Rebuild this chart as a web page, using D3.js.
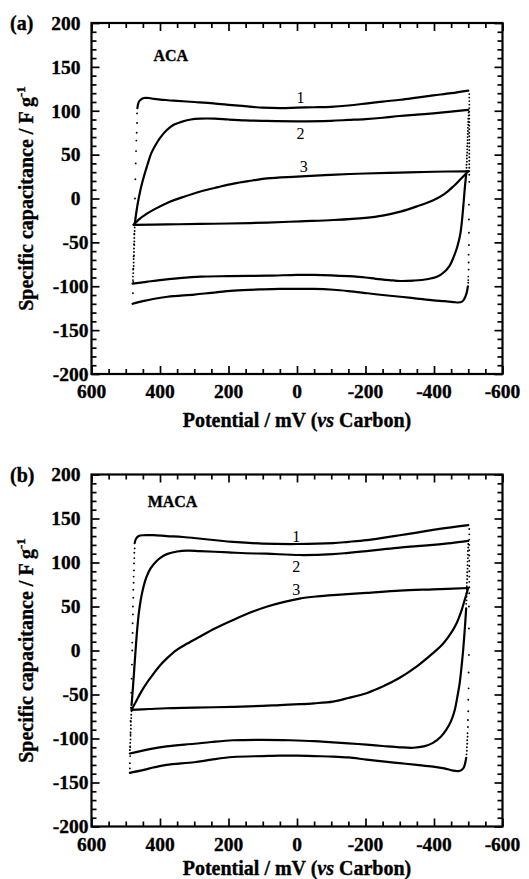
<!DOCTYPE html>
<html><head><meta charset="utf-8">
<script src="https://cdnjs.cloudflare.com/ajax/libs/d3/7.8.5/d3.min.js"></script>
<style>body{margin:0;background:#fff}svg{display:block}</style>
</head><body>
<svg id="chart" width="529" height="879"></svg>
<script>
// ---------- data ----------
const xMajorTicks = [600, 400, 200, 0, -200, -400, -600];
const yMajorTicks = [200, 150, 100, 50, 0, -50, -100, -150, -200];
const xTitle = ["Potential / mV (", "vs", " Carbon)"];
const yTitle = ["Specific capacitance / F g", "-1"];
const panelLetters = ["(a)", "(b)"];
const sampleNames = ["ACA", "MACA"];
const curveNames = ["1", "2", "3"];

// ACA: [potential mV, capacitance F/g]
const aca1Up = [[466,103],[462,110],[455,113],[447,114.5],[432,114.5],[418,113.5],[390,112.5],[360,111.5],[300,110],[244,108.5],[190,106.5],[145,105],[100,103.5],[48,103],[0,103.5],[-50,104],[-98,104.5],[-150,106],[-206,108.5],[-250,110.5],[-302,112.5],[-350,115],[-398,117.5],[-450,120],[-500,123]];
const aca1Low = [[-499,-100],[-495,-108],[-489,-114],[-482,-117.5],[-470,-118.5],[-457,-118],[-430,-117],[-398,-116],[-350,-114],[-302,-112],[-250,-110],[-206,-108],[-150,-105.5],[-107,-104],[-50,-103],[0,-103],[50,-103],[100,-103.5],[185,-105],[250,-107.5],[300,-109.5],[378,-112],[420,-114.5],[450,-117],[480,-120]];
const aca1Dots = [[-503,119],[-503,115],[-503,111],[-503,107],[-503,103],[-503,99],[-503,95],[-503,91],[-503,87],[-503,83],[-503,79],[-503,75],[-503,71],[-503,67],[-503,63],[-503,59],[-503,55],[-503,51],[-503,47],[-503,43],[-503,39],[-503,35],[-503,31],[-503,27],[-503,19],[-502,-7],[-502,-24],[-502,-39],[-502,-53],[-501,-64],[-501,-73],[-501,-81],[-500,-89],[-500,-93],[-500,-96],
  [479,-108],[478,-95],[478,-80],[477,-66],[476,-52],[475,-40],[474,-28],[473,0],[472,22],[471,40],[470,54],[469,66],[468,75],[467,86],[467,97]];
const aca2Up = [[474,-30],[466,-8],[457,10],[447,25],[437,38],[425,52],[410,63],[398,70],[380,78],[360,84],[340,87],[310,90],[282,91],[240,91],[200,90],[150,89],[97,88.5],[0,88],[-98,88.5],[-150,89.5],[-200,90.5],[-250,92],[-300,94],[-350,95.5],[-398,97],[-450,99],[-500,101]];
const aca2Low = [[-494,28],[-490,12],[-487,-2],[-483,-20],[-477,-40],[-468,-55],[-458,-66],[-445,-77],[-429,-84],[-410,-89],[-380,-92],[-340,-93.5],[-302,-94],[-270,-93],[-230,-91.5],[-200,-90],[-150,-88.5],[-100,-87.5],[-50,-87],[0,-87],[86,-88],[200,-88.5],[282,-89],[350,-91],[400,-93],[440,-95],[480,-97]];
const aca2Dots = [[-501,98],[-501,94.5],[-500,91],[-500,87.5],[-500,84],[-499,80.5],[-499,77],[-499,73.5],[-498,70],[-498,66.5],[-498,63],[-497,59.5],[-497,56],[-497,52.5],[-496,49],[-496,45.5],[-496,42],[-495,38.5],[-495,35],[-495,31.5],
  [479,-93],[479,-89],[478,-85],[478,-81],[477,-77],[477,-73],[477,-69],[476,-65],[476,-61],[476,-57],[475,-53],[475,-49],[475,-45],[475,-41],[474,-37],[474,-33]];
const aca3Up = [[477,-30],[462,-24],[437,-17],[410,-11],[379,-5],[330,2],[282,8],[230,13],[185,17],[130,20.5],[87,23],[0,25],[-98,27],[-200,28.5],[-300,29.5],[-400,30.5],[-500,31]];
const aca3Low = [[-500,31],[-490,27],[-475,21],[-457,14],[-430,5],[-398,-2],[-350,-9],[-302,-15],[-250,-19.5],[-200,-22],[-107,-24.5],[-10,-26],[87,-27.5],[200,-28.5],[282,-29],[380,-29.5],[477,-30]];
const aca3Dots = [];

// MACA
const maca1Up = [[474,122],[470,127],[462,130],[449,131],[420,131],[380,130],[333,129],[280,127],[230,125],[187,123.5],[100,121.5],[0,121],[-105,122],[-150,123.5],[-203,125.5],[-250,128],[-300,131],[-350,134],[-397,137],[-450,140],[-500,142.5]];
const maca1Low = [[-494,-122],[-491,-128],[-487,-133],[-480,-136],[-470,-137],[-456,-136.5],[-430,-134],[-397,-132],[-350,-130],[-300,-128],[-250,-126],[-203,-124],[-150,-121.5],[-105,-120.5],[-50,-120],[0,-119.5],[50,-119.5],[100,-120],[187,-121],[250,-124],[300,-127],[381,-130],[420,-133],[450,-136],[488,-139]];
const maca1Dots = [[-503,138],[-503,132],[-503,126],[-503,120],[-503,114],[-503,108],[-503,102],[-503,96],[-503,90],[-503,84],[-503,78],[-503,72],[-503,65],[-502,50],[-502,25],[-502,-5],[-501,-25],[-501,-43],[-500,-56],[-500,-69],[-499,-79],[-499,-87],[-498,-94],[-498,-98],[-497,-102],[-497,-106],[-496,-110],[-496,-114],[-495,-118],
  [488,-134],[488,-128],[487,-120],[487,-110],[486,-95],[486,-80],[485,-65],[484,-48],[483,-32],[482,-16],[481,0],[481,9],[480,20],[480,31],[479,41],[479,50],[478,60],[478,69],[477,77],[477,84],[476,91],[476,99],[475,105],[475,111],[474,116]];
const maca2Up = [[483,-62],[479,-42],[475,-20],[471,2],[467,22],[462,42],[456,58],[449,71],[440,83],[428,93],[414,100],[400,105],[380,109.5],[350,112.5],[320,113.5],[284,113],[200,111.5],[150,110.5],[89,110],[-8,108.5],[-105,109.5],[-150,111],[-203,113],[-250,115],[-300,117],[-350,118.5],[-397,120],[-450,122],[-500,124.5]];
const maca2Low = [[-494,48],[-490,25],[-485,0],[-480,-20],[-475,-37],[-468,-53],[-461,-67],[-450,-80],[-436,-90],[-420,-98],[-397,-105],[-370,-109],[-340,-110.5],[-300,-110],[-250,-108.5],[-203,-107],[-150,-105.5],[-105,-104.5],[-50,-103],[21,-102],[100,-101.5],[187,-102],[250,-104],[300,-106],[381,-109],[430,-112],[488,-117]];
const maca2Dots = [[-500,121],[-500,117],[-499,113],[-499,109],[-499,105],[-498,101],[-498,97],[-498,93],[-497,89],[-497,85],[-497,81],[-496,77],[-496,73],[-496,69],[-495,65],[-495,61],[-495,57],[-494,53],
  [488,-113],[487,-109],[487,-105],[486,-101],[486,-97],[486,-93],[485,-89],[485,-85],[485,-81],[484,-77],[484,-73],[483,-69],[483,-65]];
const maca3Up = [[483,-67.5],[470,-58],[455,-47],[439,-37],[420,-27],[400,-17],[380,-9],[350,1],[320,8],[284,15.7],[240,25],[187,34.6],[140,42.5],[89,49.7],[40,55],[-8,59],[-60,61.5],[-105,63],[-203,65.5],[-300,68],[-397,69.5],[-500,71]];
const maca3Low = [[-500,71],[-490,58],[-480,45],[-466,31],[-450,20],[-427,8],[-397,-3],[-350,-18],[-300,-31],[-250,-41],[-203,-48.5],[-150,-54],[-105,-58],[-50,-60],[-8,-61],[50,-62],[100,-63],[187,-64],[300,-65],[381,-65.6],[430,-66.5],[483,-67.5]];
const maca3Dots = [];

// annotation anchors (data units)
const acaNameAt = [419, 157];
const macaNameAt = [436, 163];
const acaCurveLabelAt = [[-10, 109], [-10, 68], [-20, 30]];
const macaCurveLabelAt = [[2, 123], [2, 89], [2, 63]];

// ---------- drawing ----------
const FONT = "'Liberation Serif','Times New Roman',serif";
const svg = d3.select("#chart");

const panels = [
  {top: 23, bottom: 374, letter: panelLetters[0], name: sampleNames[0], nameAt: acaNameAt, labelAt: acaCurveLabelAt,
   curves: [[aca1Up, aca1Low, aca1Dots], [aca2Up, aca2Low, aca2Dots], [aca3Up, aca3Low, aca3Dots]], titleY: 427},
  {top: 474.5, bottom: 826.5, letter: panelLetters[1], name: sampleNames[1], nameAt: macaNameAt, labelAt: macaCurveLabelAt,
   curves: [[maca1Up, maca1Low, maca1Dots], [maca2Up, maca2Low, maca2Dots], [maca3Up, maca3Low, maca3Dots]], titleY: 875}
];

const left = 91.5, right = 502.5;
const xMinor = d3.range(-600, 601, 50).filter(v => !xMajorTicks.includes(v));
const yMinor = d3.range(-200, 201, 10).filter(v => !yMajorTicks.includes(v));

panels.forEach(p => {
  const x = d3.scaleLinear().domain([600, -600]).range([left, right]);
  const y = d3.scaleLinear().domain([-200, 200]).range([p.bottom, p.top]);
  const g = svg.append("g");

  const tickStyle = sel => { sel.select(".domain").remove(); sel.selectAll("line").attr("stroke", "#000").attr("stroke-width", 1.7); sel.selectAll("text").remove(); };
  const majL = 8, minL = 5;
  g.append("g").attr("transform", `translate(0,${p.bottom})`).call(d3.axisBottom(x).tickValues(xMajorTicks).tickSize(-majL)).call(tickStyle);
  g.append("g").attr("transform", `translate(0,${p.bottom})`).call(d3.axisBottom(x).tickValues(xMinor).tickSize(-minL)).call(tickStyle);
  g.append("g").attr("transform", `translate(0,${p.top})`).call(d3.axisTop(x).tickValues(xMajorTicks).tickSize(-majL)).call(tickStyle);
  g.append("g").attr("transform", `translate(0,${p.top})`).call(d3.axisTop(x).tickValues(xMinor).tickSize(-minL)).call(tickStyle);
  g.append("g").attr("transform", `translate(${left},0)`).call(d3.axisLeft(y).tickValues(yMajorTicks).tickSize(-majL)).call(tickStyle);
  g.append("g").attr("transform", `translate(${left},0)`).call(d3.axisLeft(y).tickValues(yMinor).tickSize(-minL)).call(tickStyle);
  g.append("g").attr("transform", `translate(${right},0)`).call(d3.axisRight(y).tickValues(yMajorTicks).tickSize(-majL)).call(tickStyle);
  g.append("g").attr("transform", `translate(${right},0)`).call(d3.axisRight(y).tickValues(yMinor).tickSize(-minL)).call(tickStyle);

  g.append("rect").attr("x", left).attr("y", p.top).attr("width", right - left).attr("height", p.bottom - p.top)
    .attr("fill", "none").attr("stroke", "#000").attr("stroke-width", 2.2);

  const heavy = sel => sel.attr("stroke", "#000").attr("stroke-width", 0.35);

  g.selectAll(".xl").data(xMajorTicks).join("text")
    .attr("x", d => x(d)).attr("y", p.bottom + 24).attr("text-anchor", "middle")
    .attr("font-family", FONT).attr("font-weight", "bold").attr("font-size", 19.5).text(d => d).call(heavy);
  g.selectAll(".yl").data(yMajorTicks).join("text")
    .attr("x", d => d < 0 ? left - 3 : left - 11).attr("y", d => y(d)).attr("dy", "0.35em").attr("text-anchor", "end")
    .attr("font-family", FONT).attr("font-weight", "bold").attr("font-size", 19.5).text(d => d).call(heavy);

  const xt = g.append("text").attr("x", (left + right) / 2).attr("y", p.titleY).attr("text-anchor", "middle")
    .attr("font-family", FONT).attr("font-weight", "bold").attr("font-size", 20).call(heavy);
  xt.append("tspan").text(xTitle[0]);
  xt.append("tspan").attr("font-style", "italic").text(xTitle[1]);
  xt.append("tspan").text(xTitle[2]);

  const yt = g.append("text").attr("transform", `translate(33,${(p.top + p.bottom) / 2}) rotate(-90)`).attr("text-anchor", "middle")
    .attr("font-family", FONT).attr("font-weight", "bold").attr("font-size", 20).call(heavy);
  yt.append("tspan").text(yTitle[0]);
  yt.append("tspan").attr("dy", -8).attr("font-size", 13).text(yTitle[1]);

  g.append("text").attr("x", 10).attr("y", p.top + 7).attr("font-family", FONT).attr("font-weight", "bold").attr("font-size", 20).text(p.letter).call(heavy);

  g.append("text").attr("x", x(p.nameAt[0])).attr("y", y(p.nameAt[1])).attr("font-family", FONT).attr("font-weight", "bold")
    .attr("font-size", 16).text(p.name).call(heavy);

  const line = d3.line().x(d => x(d[0])).y(d => y(d[1])).curve(d3.curveCatmullRom.alpha(0.5));
  p.curves.forEach(([up, low, dots]) => {
    [up, low].forEach(arr => g.append("path").datum(arr).attr("d", line).attr("fill", "none")
      .attr("stroke", "#000").attr("stroke-width", 2.2).attr("stroke-linejoin", "round").attr("stroke-linecap", "round"));
    g.selectAll(null).data(dots).join("circle").attr("cx", d => x(d[0])).attr("cy", d => y(d[1])).attr("r", 0.95).attr("fill", "#000");
  });

  g.selectAll(null).data(curveNames).join("text")
    .attr("x", (d, i) => x(p.labelAt[i][0])).attr("y", (d, i) => y(p.labelAt[i][1])).attr("text-anchor", "middle")
    .attr("font-family", FONT).attr("font-size", 16).text(d => d);
});
</script>
</body></html>
